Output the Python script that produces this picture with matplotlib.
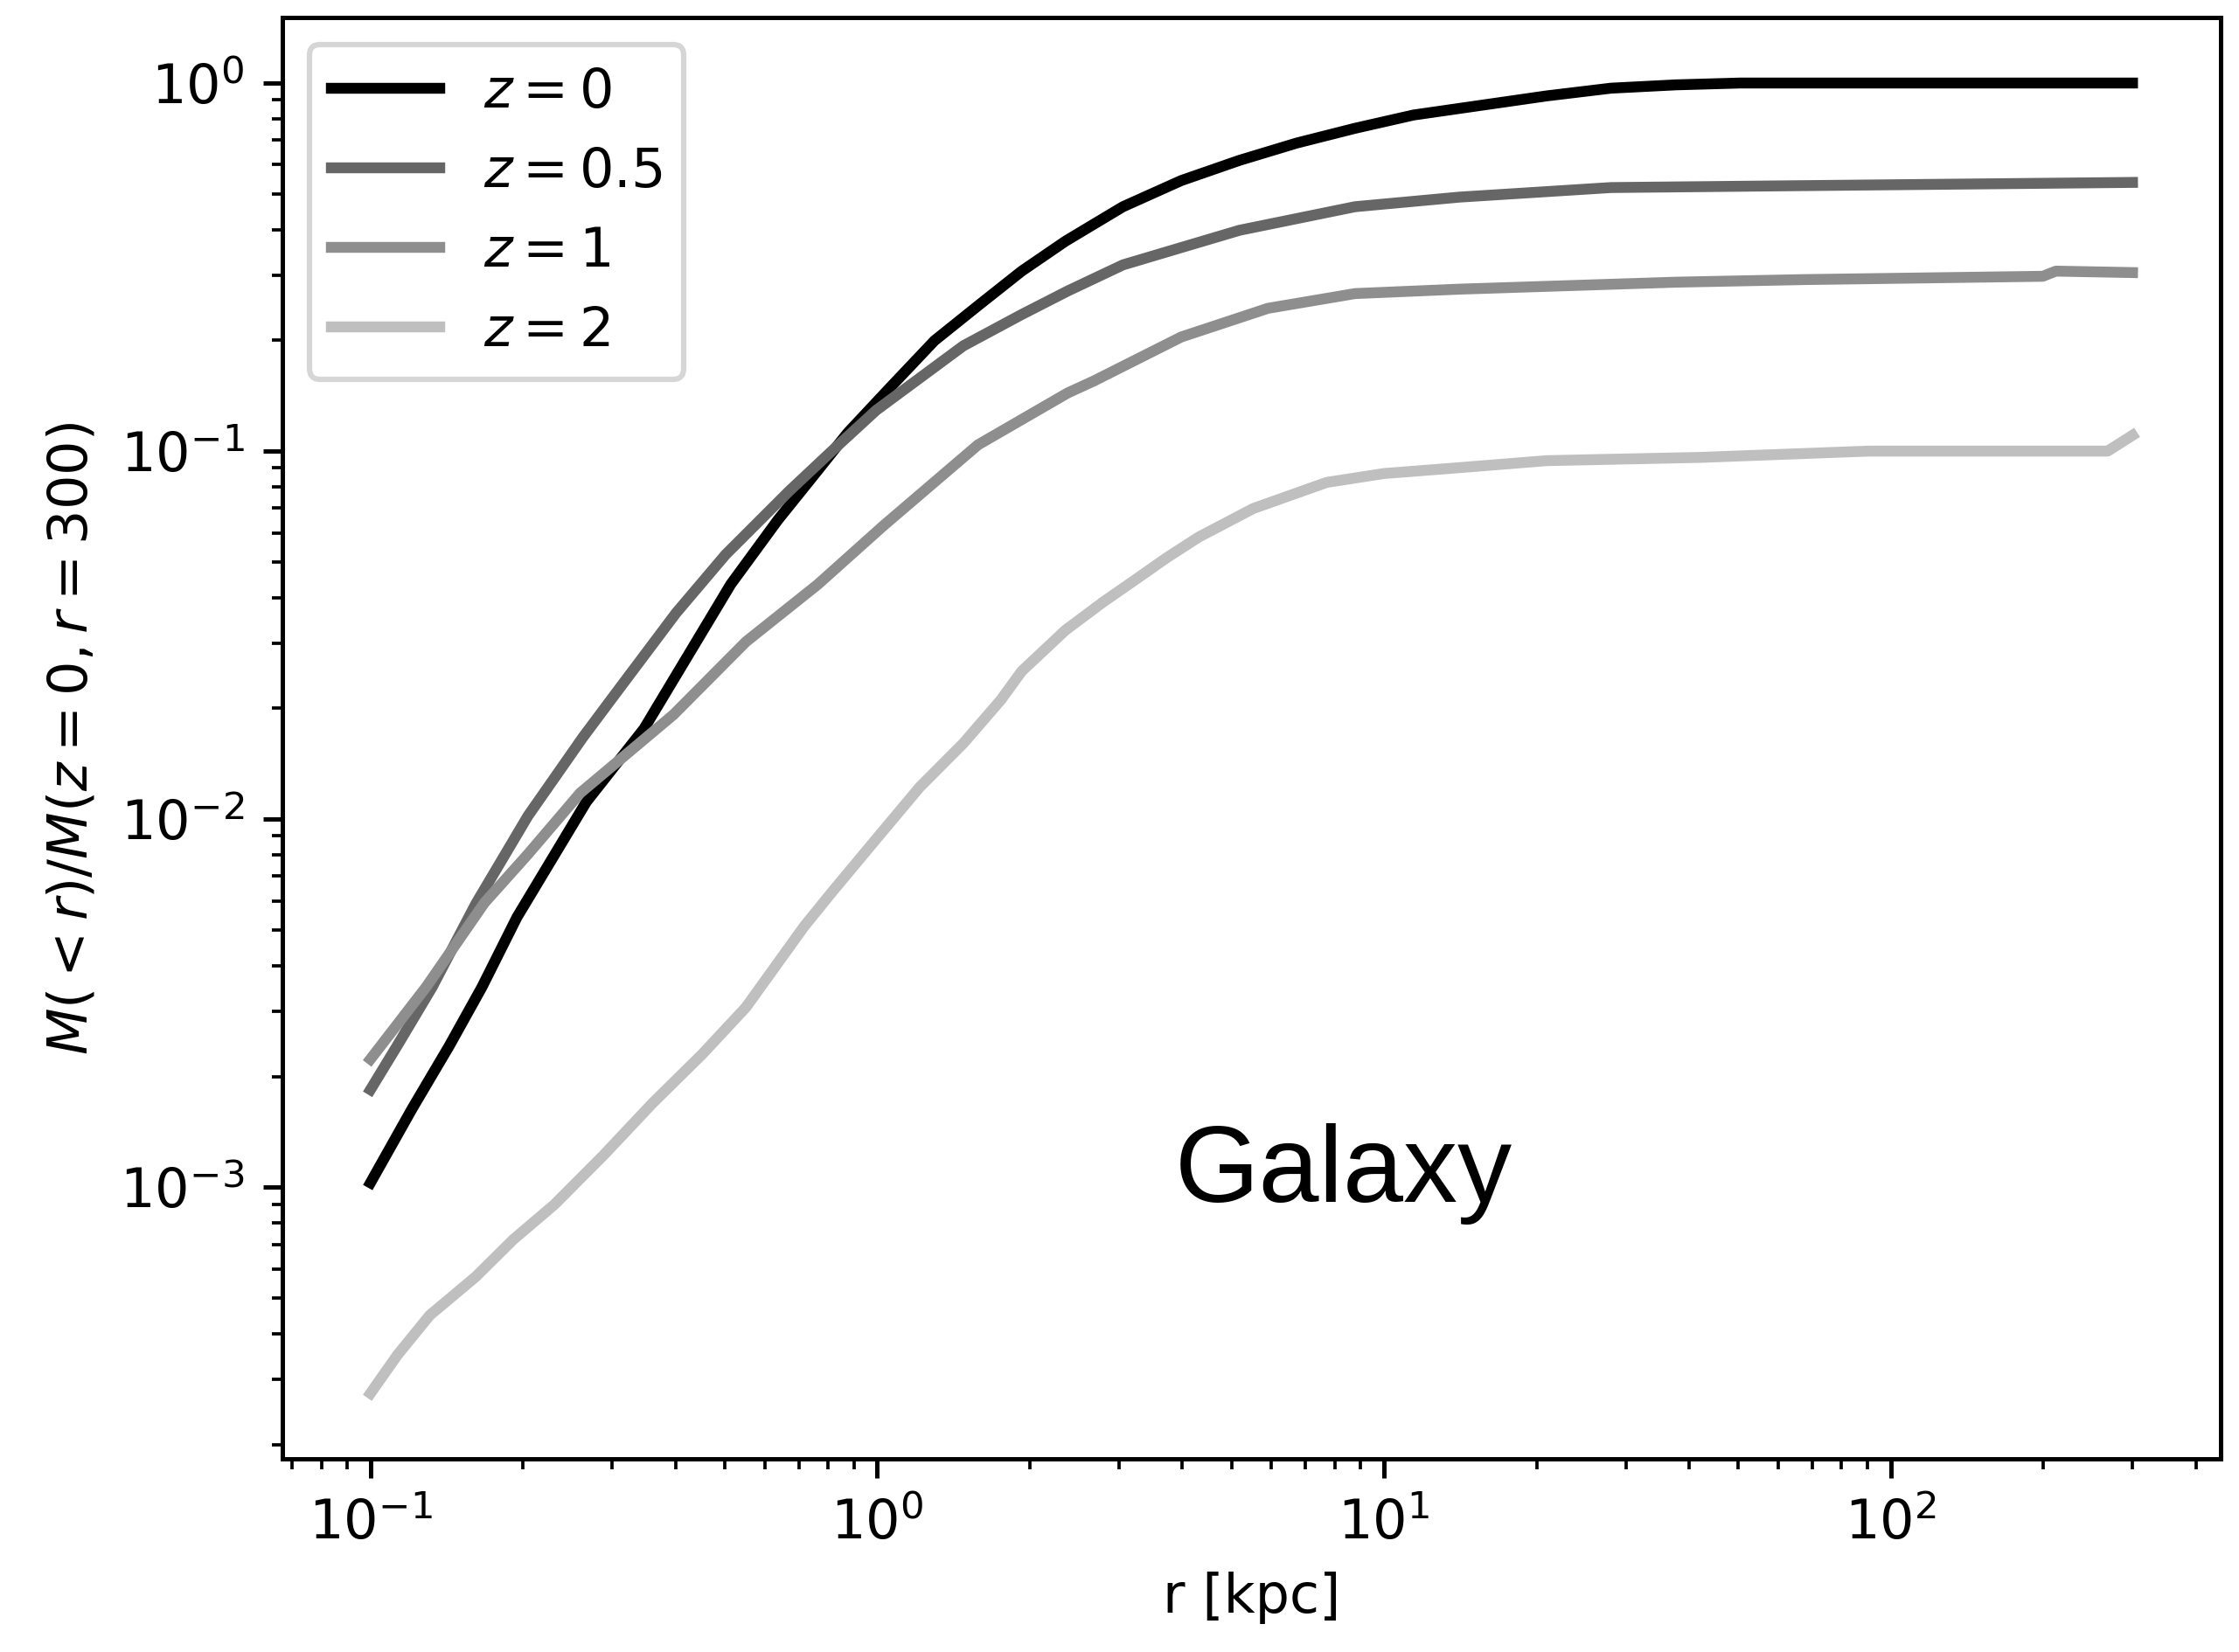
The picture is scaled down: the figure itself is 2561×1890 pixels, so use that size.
import matplotlib
matplotlib.use("Agg")
import matplotlib.pyplot as plt

# mass profiles, M(<r)/M(z=0, r=300)
r_z0 = [0.1, 0.1208, 0.1432, 0.1660, 0.1945, 0.2667, 0.3467, 0.4753, 0.5140,
        0.6368, 0.7464, 0.8750, 1.064, 1.297, 1.581, 1.928, 2.350, 2.679,
        3.055, 3.981, 5.188, 6.730, 8.770, 11.43, 14.09, 20.94, 28.05, 37.67,
        50.47, 300]
m_z0 = [1.028e-3, 1.633e-3, 2.427e-3, 3.499e-3, 5.408e-3, 0.01114, 0.01762,
        0.03631, 0.04345, 0.06501, 0.08531, 0.1122, 0.1496, 0.1995, 0.2483,
        0.3083, 0.3715, 0.4140, 0.4613, 0.5433, 0.6166, 0.6871, 0.7534,
        0.8185, 0.8531, 0.9226, 0.9683, 0.9886, 1.0, 1.0]

r_z05 = [0.1, 0.1130, 0.1324, 0.1614, 0.2046, 0.2624, 0.3041, 0.4009, 0.5023,
         0.6699, 0.8166, 0.9954, 1.479, 1.928, 2.377, 3.055, 3.981, 5.188,
         8.770, 14.09, 28.05, 90.57, 300]
m_z05 = [1.841e-3, 2.427e-3, 3.499e-3, 5.888e-3, 0.01021, 0.01667, 0.02188,
         0.03631, 0.05236, 0.07780, 0.1005, 0.1291, 0.1932, 0.2350, 0.2723,
         0.3206, 0.3573, 0.3981, 0.4613, 0.4898, 0.5200, 0.5284, 0.5370]

r_z1 = [0.1, 0.1288, 0.1679, 0.2046, 0.2594, 0.3963, 0.5508, 0.7638, 1.028,
        1.581, 2.377, 2.679, 3.981, 5.902, 8.770, 14.09, 37.67, 67.61, 199.5,
        211.8, 300]
m_z1 = [2.228e-3, 3.499e-3, 5.929e-3, 8.035e-3, 0.01178, 0.01923, 0.03034,
        0.04345, 0.06266, 0.1040, 0.1439, 0.1552, 0.2042, 0.2443, 0.2679,
        0.2754, 0.2877, 0.2924, 0.2985, 0.3083, 0.3055]

r_z2 = [0.1, 0.1130, 0.1309, 0.1614, 0.1914, 0.2307, 0.2884, 0.3606, 0.4519,
        0.5508, 0.7178, 0.8166, 0.9954, 1.213, 1.479, 1.754, 1.928, 2.350,
        2.786, 3.266, 3.715, 4.305, 5.521, 7.709, 10.0, 14.09, 20.94, 42.36,
        90.57, 267.9, 300]
m_z2 = [2.754e-4, 3.499e-4, 4.487e-4, 5.715e-4, 7.211e-4, 8.974e-4, 1.222e-3,
        1.694e-3, 2.301e-3, 3.083e-3, 5.117e-3, 6.368e-3, 8.831e-3, 0.01222,
        0.01607, 0.02109, 0.02523, 0.03258, 0.03882, 0.04519, 0.05117,
        0.05834, 0.06982, 0.08222, 0.08690, 0.09016, 0.09419, 0.09616, 0.1,
        0.1, 0.1104]

labels = ["$z=0$", "$z=0.5$", "$z=1$", "$z=2$"]
colors = ["k", "#666666", "#8e8e8e", "#bfbfbf"]

dpi = 447
fig = plt.figure(figsize=(2561 / dpi, 1890 / dpi), dpi=dpi)
ax = fig.add_axes([0.1261, 0.1169, 0.8657, 0.8725])

rs = [r_z0, r_z05, r_z1, r_z2]
ms = [m_z0, m_z05, m_z1, m_z2]
for r, m, lab, c in zip(rs, ms, labels, colors):
    ax.plot(r, m, color=c, lw=2, label=lab)

ax.set_xscale("log")
ax.set_yscale("log")
ax.set_xlabel("r [kpc]")
ax.set_ylabel("$M(<r)/M(z=0,r=300)$")
ax.legend(loc="upper left")

# annotation added on top of the plot
ax.text(0.4605, 0.1783, "Galaxy", transform=ax.transAxes, ha="left",
        va="baseline", fontsize=20, family="Liberation Sans")

fig.savefig("out.png", dpi=dpi)
